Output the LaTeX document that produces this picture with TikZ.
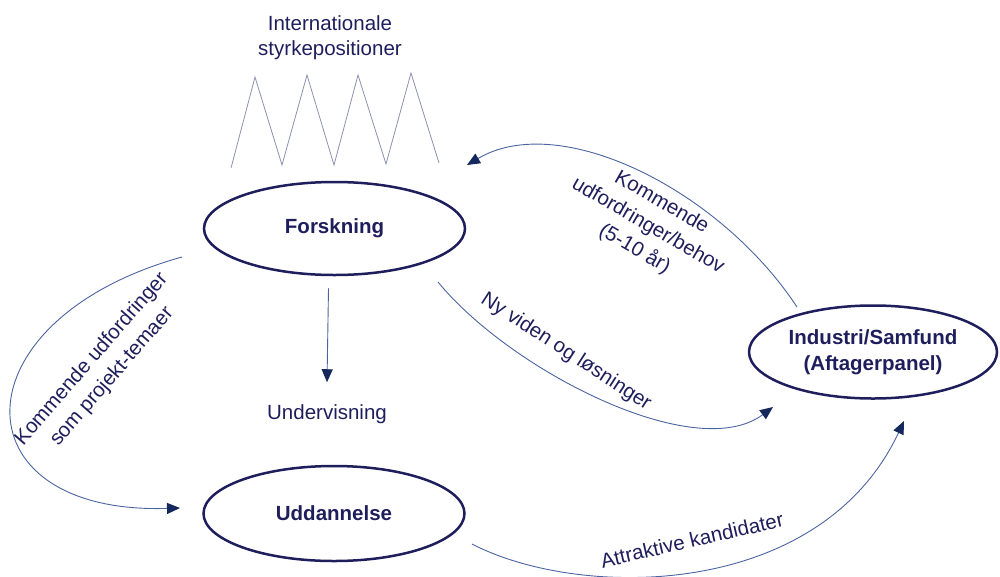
\documentclass[tikz,border=0pt]{standalone}
\usepackage{fontspec}
\setmainfont{Liberation Sans}
\usetikzlibrary{arrows.meta,shapes.geometric}
\definecolor{navy}{HTML}{1E1E5C}
\definecolor{linec}{HTML}{4A64A0}
\definecolor{headc}{HTML}{14285E}
\definecolor{zig}{HTML}{8E90AE}
\begin{document}
\begin{tikzpicture}[x=1pt,y=-1pt,
  every node/.style={text=navy,font=\fontsize{20.5}{25}\selectfont},
  oval/.style={ellipse,draw=navy,line width=2.5pt,inner sep=0pt,align=center,
    font=\fontsize{20.5}{26}\selectfont\bfseries},
  conn/.style={draw=linec,line width=0.9pt,-{Triangle[length=13pt,width=11pt,color=headc]}},
  lbl/.style={align=center,inner sep=0pt},
  rlbl/.style={align=center,inner sep=0pt,font=\fontsize{20.5}{27}\selectfont}]
\useasboundingbox (0,0) rectangle (1000,576);

% ovals
\node[oval,minimum width=261pt,minimum height=93pt] (fors) at (334.5,228.5) {Forskning};
\node[oval,minimum width=261pt,minimum height=95pt] (udd) at (334,513.5) {Uddannelse};
\node[oval,minimum width=248pt,minimum height=93pt] (ind) at (873,352) {Industri/Samfund\\(Aftagerpanel)};

% top text and zigzag
\node[lbl] (intl) at (330,38) {Internationale\\styrkepositioner};
\draw[zig,line width=0.8pt,line join=miter]
  (231,168) -- (255,77) -- (282,165) -- (307,75) -- (334,165) -- (358,75)
  -- (386,164) -- (411,73) -- (439,163);

% Undervisning
\node[lbl] (und) at (327,414) {Undervisning};
\draw[conn] ([xshift=-6pt,yshift=-12pt]fors.south) -- ([yshift=22pt]und.north);

% connector end points
\coordinate (a1s) at (797,307);
\coordinate (a1e) at (467,165);
\coordinate (a2s) at (438,282);
\coordinate (a2e) at (773,407);
\coordinate (a3s) at (182,257);
\coordinate (a3e) at (180,508);
\coordinate (a4s) at (472,544);
\coordinate (a4e) at (904,421);

% curved connectors
\draw[conn] (a1s) .. controls (720,190) and (560,110) .. (a1e);
\draw[conn] (a2s) .. controls (510,370) and (695,465) .. (a2e);
\draw[conn] (a3s) .. controls (-45,320) and (-45,515) .. (a3e);
\draw[conn] (a4s) .. controls (580,600) and (820,600) .. (a4e);

% labels
\node[rlbl,rotate=-30] (l1) at (648,226) {Kommende\\udfordringer/behov\\(5-10 år)};
\node[rlbl,rotate=-33] (l2) at (566,352) {Ny viden og løsninger};
\node[rlbl,rotate=49] (l3) at (102,368) {Kommende udfordringer\\som projekt-temaer};
\node[rlbl,rotate=13] (l4) at (692,540) {Attraktive kandidater};
\end{tikzpicture}
\end{document}
